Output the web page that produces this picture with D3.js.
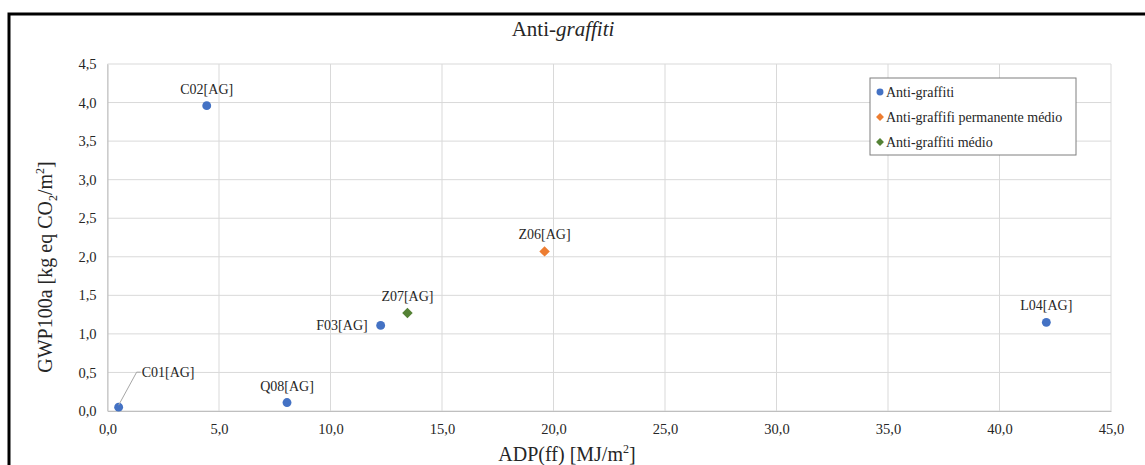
<!DOCTYPE html>
<html>
<head>
<meta charset="utf-8">
<script src="https://cdn.jsdelivr.net/npm/d3@7"></script>
<style>
  body { margin: 0; background: #fff; }
  text { font-family: "Liberation Serif", "DejaVu Serif", serif; fill: #262626; }
</style>
</head>
<body>
<svg id="chart" width="1145" height="465"></svg>
<script>
// données
const names = ["C01[AG]", "C02[AG]", "Q08[AG]", "F03[AG]", "Z07[AG]", "Z06[AG]", "L04[AG]"];
const adp = [0.5, 4.45, 8.05, 12.25, 13.45, 19.6, 42.1];
const gwp = [0.05, 3.96, 0.11, 1.11, 1.27, 2.07, 1.15];
const series = ["ag", "ag", "ag", "ag", "medio", "perm", "ag"];
const labelSide = ["callout", "above", "above", "left", "above", "above", "above"];

const seriesNames = ["Anti-graffiti", "Anti-graffifi permanente médio", "Anti-graffiti médio"];
const seriesKeys = ["ag", "perm", "medio"];
const seriesColors = ["#4472C4", "#ED7D31", "#548235"];
const xTicks = [0, 5, 10, 15, 20, 25, 30, 35, 40, 45];
const yTicks = [0, 0.5, 1, 1.5, 2, 2.5, 3, 3.5, 4, 4.5];

const points = names.map((n, i) => ({name: n, x: adp[i], y: gwp[i], s: series[i], side: labelSide[i]}));

const svg = d3.select("#chart");
const color = d3.scaleOrdinal().domain(seriesKeys).range(seriesColors);
const fmt = v => d3.format(".1f")(v).replace(".", ",");

const x = d3.scaleLinear().domain([0, 45]).range([107.5, 1111]);
const y = d3.scaleLinear().domain([0, 4.5]).range([411, 64]);

// cadre noir
svg.append("path")
    .attr("d", "M9,470 L9,14 L1150,14")
    .attr("fill", "none")
    .attr("stroke", "#000")
    .attr("stroke-width", 3);

// grille
svg.append("g").selectAll("line").data(xTicks).enter().append("line")
    .attr("x1", d => x(d)).attr("x2", d => x(d))
    .attr("y1", y(4.5)).attr("y2", y(0))
    .attr("stroke", "#d9d9d9");
svg.append("g").selectAll("line").data(yTicks).enter().append("line")
    .attr("x1", x(0)).attr("x2", x(45))
    .attr("y1", d => y(d)).attr("y2", d => y(d))
    .attr("stroke", "#d9d9d9");

// axes
const xAxis = svg.append("g").attr("transform", `translate(0,${y(0)})`)
    .call(d3.axisBottom(x).tickValues(xTicks).tickFormat(fmt).tickSize(0).tickPadding(13));
const yAxis = svg.append("g").attr("transform", `translate(${x(0)},0)`)
    .call(d3.axisLeft(y).tickValues(yTicks).tickFormat(fmt).tickSize(0).tickPadding(11));
[xAxis, yAxis].forEach(a => {
    a.select(".domain").attr("stroke", "#bfbfbf");
    a.selectAll("text").style("font-family", "Liberation Serif").style("font-size", "14.5px").attr("fill", "#262626");
});

// titre
const title = svg.append("text")
    .attr("x", 563).attr("y", 36)
    .attr("text-anchor", "middle")
    .style("font-size", "21px");
title.append("tspan").text("Anti-");
title.append("tspan").style("font-style", "italic").text("graffiti");

// titre axe X
const xt = svg.append("text")
    .attr("x", 567).attr("y", 461)
    .attr("text-anchor", "middle")
    .style("font-size", "20px");
xt.append("tspan").text("ADP(ff) [MJ/m");
xt.append("tspan").attr("dy", -8).style("font-size", "12px").text("2");
xt.append("tspan").attr("dy", 8).text("]");

// titre axe Y
const yt = svg.append("text")
    .attr("transform", "translate(52,267) rotate(-90)")
    .attr("text-anchor", "middle")
    .style("font-size", "20px");
yt.append("tspan").text("GWP100a [kg eq CO");
yt.append("tspan").attr("dy", 5).style("font-size", "12px").text("2");
yt.append("tspan").attr("dy", -5).text("/m");
yt.append("tspan").attr("dy", -8).style("font-size", "12px").text("2");
yt.append("tspan").attr("dy", 8).text("]");

// points
const diamond = d3.symbol().type(d3.symbolDiamond2).size(70);
const circle = d3.symbol().type(d3.symbolCircle).size(62);
svg.append("g").selectAll("path").data(points).enter().append("path")
    .attr("transform", d => `translate(${x(d.x)},${y(d.y)})`)
    .attr("d", d => d.s === "ag" ? circle() : diamond())
    .attr("fill", d => color(d.s));

// étiquettes
const lbl = svg.append("g").style("font-size", "14px");
points.forEach(d => {
    const px = x(d.x), py = y(d.y);
    if (d.side === "above") {
        lbl.append("text").attr("x", px).attr("y", py - 12)
            .attr("text-anchor", "middle").text(d.name);
    } else if (d.side === "left") {
        lbl.append("text").attr("x", px - 13).attr("y", py + 5)
            .attr("text-anchor", "end").text(d.name);
    } else {
        lbl.append("polyline")
            .attr("points", `${px},${py - 2} ${px + 18},${py - 35} ${px + 22},${py - 35}`)
            .attr("fill", "none").attr("stroke", "#a6a6a6");
        lbl.append("text").attr("x", px + 23).attr("y", py - 30).text(d.name);
    }
});

// légende
const legend = svg.append("g").attr("transform", "translate(870,78)");
legend.append("rect").attr("width", 206).attr("height", 77)
    .attr("fill", "#fff").attr("stroke", "#7f7f7f");
seriesKeys.forEach((k, i) => {
    const g = legend.append("g").attr("transform", `translate(10,${14 + i * 25})`);
    g.append("path")
        .attr("d", k === "ag" ? d3.symbol().type(d3.symbolCircle).size(38)() : d3.symbol().type(d3.symbolDiamond2).size(40)())
        .attr("fill", color(k));
    g.append("text").attr("x", 6).attr("y", 5).style("font-size", "14px").text(seriesNames[i]);
});
</script>
</body>
</html>
